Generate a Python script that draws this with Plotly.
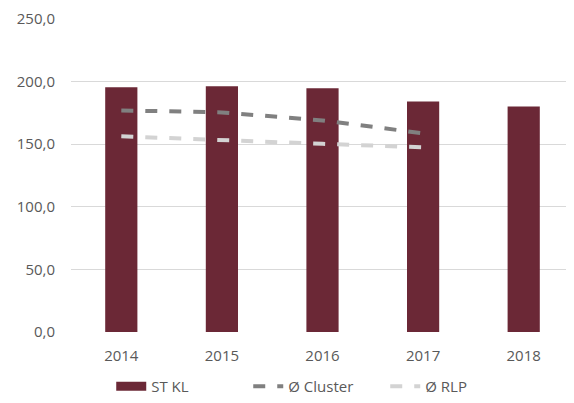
import plotly.graph_objects as go

jahre = ['2014', '2015', '2016', '2017', '2018']
st_kl = [195.4, 196.2, 194.6, 184.2, 180.2]
cluster = [177.0, 175.4, 169.0, 158.7, None]
rlp = [156.3, 153.0, 150.3, 147.5, None]

bar_farbe = '#6B2836'

fig = go.Figure()
fig.add_trace(go.Bar(x=jahre, y=st_kl, name='ST KL', marker_color=bar_farbe,
                     marker_line_width=0, showlegend=False))
# breites Rechteck in der Legende wie im Original
fig.add_trace(go.Scatter(x=[None], y=[None], name='ST KL', mode='lines',
                         line=dict(color=bar_farbe, width=9)))
fig.add_trace(go.Scatter(x=jahre, y=cluster, name='Ø Cluster', mode='lines',
                         line=dict(color='#808080', width=4, dash='dash')))
fig.add_trace(go.Scatter(x=jahre, y=rlp, name='Ø RLP', mode='lines',
                         line=dict(color='#D3D3D3', width=4, dash='dash')))

# Seite hat 8px Rand im body, daher etwas kleiner
fig.update_layout(
    width=566, height=395,
    template='plotly_white',
    separators=',.',
    margin=dict(l=63, r=0, t=11, b=71),
    bargap=0.68,
    font=dict(family='Open Sans', size=15, color='#595959'),
    legend=dict(orientation='h', x=0.08, xanchor='left',
                y=0.0, yref='container', yanchor='bottom',
                font=dict(size=15, color='#595959'),
                entrywidth=92, entrywidthmode='pixels'),
    xaxis=dict(showgrid=False, showline=False, ticks='outside', ticklen=10,
               tickcolor='rgba(0,0,0,0)', automargin=False),
    yaxis=dict(range=[0, 250], dtick=50, tickformat='.1f', gridcolor='#D9D9D9',
               gridwidth=1, zeroline=False, showline=False, ticks='outside',
               ticklen=12, tickcolor='rgba(0,0,0,0)', automargin=False),
    plot_bgcolor='white', paper_bgcolor='white',
)

fig.write_html('out.html')
